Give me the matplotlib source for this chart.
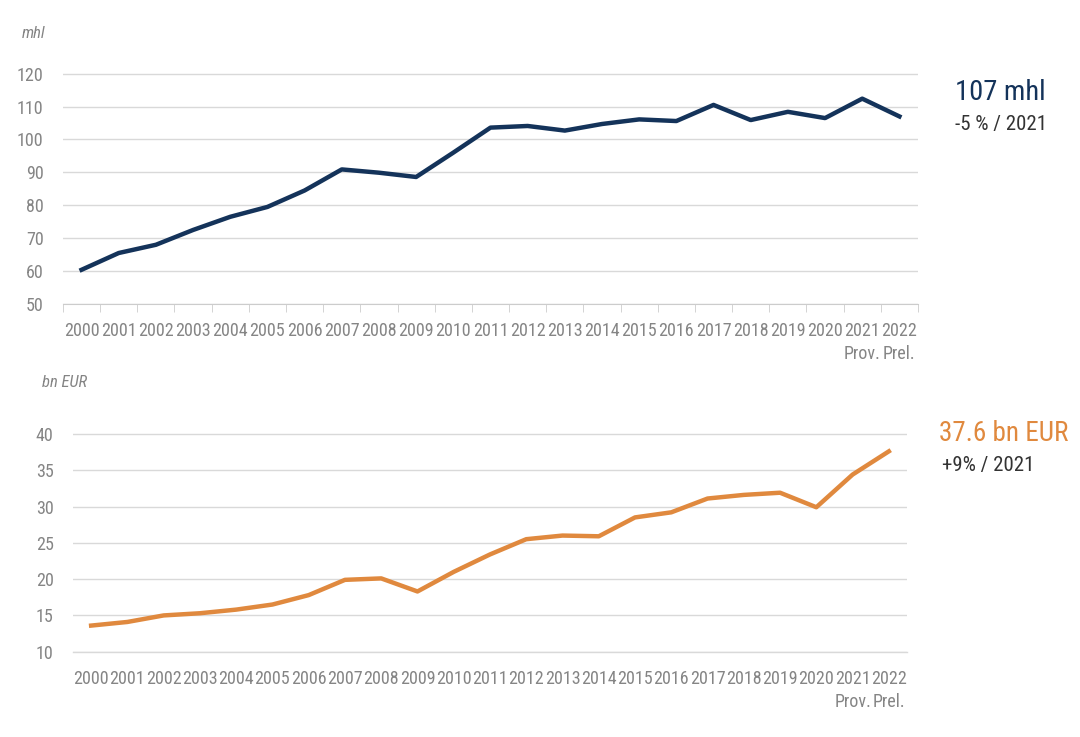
import numpy as np
import matplotlib
matplotlib.use("Agg")
import matplotlib.pyplot as plt
from matplotlib import font_manager as fm

# look for a narrow font; the reference uses a condensed face
narrow = None
for fam, st in [('Roboto Condensed', 'normal'), ('Liberation Sans Narrow', 'normal'),
                ('Open Sans Condensed', 'normal'), ('DejaVu Sans', 'condensed'),
                ('Roboto', 'condensed'), ('Open Sans', 'condensed'), ('Noto Sans', 'condensed')]:
    path = fm.findfont(fm.FontProperties(family=fam, stretch=st), fallback_to_default=False)
    low = path.lower()
    if 'condensed' in low or 'narrow' in low:
        narrow = path
        break

if narrow:
    fm.fontManager.addfont(narrow)
    fam_name = fm.FontProperties(fname=narrow).get_name()
    plt.rcParams['font.family'] = [fam_name, 'DejaVu Sans']
    tick_size, big_size, small_size = 13, 19.5, 15
else:
    plt.rcParams['font.family'] = ['DejaVu Sans']
    tick_size, big_size, small_size = 9.5, 15, 11.5

years = [str(y) for y in range(2000, 2023)]
year_labels = years[:-2] + ["2021\nProv.", "2022\nPrel."]

volume_mhl = [60.4, 65.5, 68.0, 72.5, 76.5, 79.5, 84.5, 90.9, 89.9, 88.6, 96.0, 103.6,
              104.1, 102.7, 104.7, 106.1, 105.6, 110.5, 105.9, 108.4, 106.5, 112.4, 107.0]
value_bn_eur = [13.6, 14.1, 15.0, 15.3, 15.8, 16.5, 17.8, 19.9, 20.1, 18.3, 21.0, 23.4,
                25.5, 26.0, 25.9, 28.5, 29.2, 31.1, 31.6, 31.9, 29.9, 34.4, 37.6]

navy = "#14335a"
orange = "#e0893e"
grey = "#858585"
grid = "#d9d9d9"

fig = plt.figure(figsize=(10.8, 7.37), dpi=100)
ax1 = fig.add_axes([0.0583, 0.5875, 0.7917, 0.3148])
ax2 = fig.add_axes([0.0676, 0.1157, 0.7722, 0.2985])

x = np.arange(len(years))


def style(ax, yticks, ylim):
    ax.set_xlim(-0.5, len(years) - 0.5)
    ax.set_ylim(*ylim)
    ax.set_yticks(yticks)
    ax.set_xticks(x)
    ax.set_xticklabels(year_labels, linespacing=1.35)
    ax.grid(axis='y', color=grid, lw=1)
    ax.set_axisbelow(True)
    for s in ['top', 'right', 'left']:
        ax.spines[s].set_visible(False)
    ax.tick_params(axis='both', which='major', length=0, labelsize=tick_size, labelcolor=grey)
    ax.tick_params(axis='x', pad=13)
    ax.tick_params(axis='y', pad=14)


style(ax1, range(50, 121, 10), (50, 120.5))
ax1.plot(x, volume_mhl, color=navy, lw=3.2, clip_on=False)
ax1.spines['bottom'].set_color("#cccccc")
ax1.set_xticks(np.arange(-0.5, len(years), 1), minor=True)
ax1.tick_params(axis='x', which='minor', length=6, color="#cccccc", direction='out')
ax1.text(-0.048, 1.165, "mhl", transform=ax1.transAxes, fontsize=12, style='italic',
         color=grey, ha='left', va='center')
fig.text(0.884, 0.875, "107 mhl", fontsize=big_size + 1, color=navy, va='center', ha='left')
fig.text(0.884, 0.831, "-5 % / 2021", fontsize=small_size, color="#333333", va='center', ha='left')

style(ax2, range(10, 41, 5), (10, 40.3))
ax2.axhline(10, color=grid, lw=1, clip_on=False, zorder=0)
ax2.plot(x, value_bn_eur, color=orange, lw=3.2, clip_on=False)
ax2.spines['bottom'].set_visible(False)
ax2.text(-0.037, 1.225, "bn EUR", transform=ax2.transAxes, fontsize=12, style='italic',
         color=grey, ha='left', va='center')
fig.text(0.869, 0.412, "37.6 bn EUR", fontsize=big_size, color=orange, va='center', ha='left')
fig.text(0.872, 0.369, "+9% / 2021", fontsize=small_size, color="#333333", va='center', ha='left')

fig.savefig("out.png", dpi=100)
